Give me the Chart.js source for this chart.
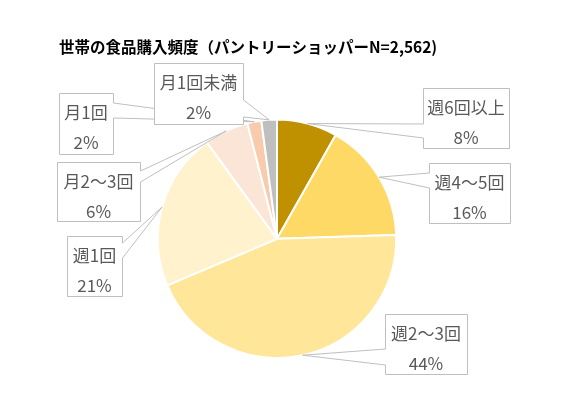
<!DOCTYPE html>
<html>
<head>
<meta charset="utf-8">
<script src="https://cdn.jsdelivr.net/npm/chart.js@4"></script>
<style>
html,body{margin:0;padding:0;background:#fff;}
#wrap{width:577px;height:402px;position:relative;}
</style>
</head>
<body>
<div id="wrap"><canvas id="c" width="577" height="402"></canvas></div>
<script>
// ---- data ----
const titleText = '世帯の食品購入頻度（パントリーショッパーN=2,562)';
const categories = ['週6回以上', '週4～5回', '週2～3回', '週1回', '月2～3回', '月1回', '月1回未満'];
const shares = [8.2, 16.3, 44.1, 21.4, 6.0, 1.9, 2.1];
const sliceColors = ['#BF9000', '#FFD966', '#FFE699', '#FFF2CC', '#FBE5D6', '#F8CBAD', '#BFBFBF'];

// ---- label callout layout (box rects; wedge side and opening on the box edge) ----
const calloutLayout = [
  {x: 423, y: 88,  w: 86, h: 60, side: 'left',  o1: 124, o2: 138},
  {x: 429, y: 163, w: 81, h: 60, side: 'left',  o1: 173, o2: 188},
  {x: 385, y: 314, w: 82, h: 60, side: 'left',  o1: 349, o2: 365},
  {x: 67,  y: 236, w: 55, h: 60, side: 'right', o1: 243, o2: 258},
  {x: 57,  y: 162, w: 83, h: 59, side: 'right', o1: 171, o2: 182},
  {x: 59,  y: 93,  w: 54, h: 61, side: 'right', o1: 103, o2: 118},
  {x: 154, y: 63,  w: 89, h: 61, side: 'right', o1: 100, o2: 117}
];

const calloutPlugin = {
  id: 'callouts',
  afterDatasetsDraw(chart) {
    const ctx = chart.ctx;
    const meta = chart.getDatasetMeta(0);
    const data = chart.data.datasets[0].data;
    const total = data.reduce((a, b) => a + b, 0);
    ctx.save();
    meta.data.forEach((arc, i) => {
      const p = arc.getProps(['x', 'y', 'startAngle', 'endAngle', 'outerRadius'], true);
      const mid = (p.startAngle + p.endAngle) / 2;
      const tx = p.x + Math.cos(mid) * p.outerRadius;
      const ty = p.y + Math.sin(mid) * p.outerRadius;
      const b = calloutLayout[i];
      const L = b.x + 0.5, T = b.y + 0.5, R = b.x + b.w + 0.5, B = b.y + b.h + 0.5;
      ctx.beginPath();
      if (b.side === 'left') {
        ctx.moveTo(L, T); ctx.lineTo(R, T); ctx.lineTo(R, B); ctx.lineTo(L, B);
        ctx.lineTo(L, b.o2); ctx.lineTo(tx, ty); ctx.lineTo(L, b.o1);
      } else {
        ctx.moveTo(L, T); ctx.lineTo(R, T); ctx.lineTo(R, b.o1); ctx.lineTo(tx, ty);
        ctx.lineTo(R, b.o2); ctx.lineTo(R, B); ctx.lineTo(L, B);
      }
      ctx.closePath();
      ctx.fillStyle = '#ffffff';
      ctx.fill();
      ctx.strokeStyle = '#BFBFBF';
      ctx.lineWidth = 1;
      ctx.stroke();
      ctx.fillStyle = '#595959';
      ctx.font = '17px "Noto Sans CJK JP", "Noto Sans", sans-serif';
      ctx.textAlign = 'center';
      ctx.textBaseline = 'middle';
      const cx = b.x + b.w / 2;
      ctx.fillText(chart.data.labels[i], cx, b.y + 19.5);
      ctx.fillText(Math.round(data[i] / total * 100) + '%', cx, b.y + 49.5);
    });
    ctx.restore();
  }
};

new Chart(document.getElementById('c'), {
  type: 'pie',
  data: {
    labels: categories,
    datasets: [{
      data: shares,
      backgroundColor: sliceColors,
      borderColor: '#ffffff',
      borderWidth: 2
    }]
  },
  options: {
    responsive: false,
    animation: false,
    layout: {padding: {left: 59, right: 82, top: 0, bottom: 43}},
    plugins: {
      legend: {display: false},
      tooltip: {enabled: false},
      title: {
        display: true,
        text: titleText,
        align: 'start',
        color: '#000000',
        font: {family: '"Noto Sans CJK JP", sans-serif', size: 15.5, weight: 'bold', lineHeight: 1.2},
        padding: {top: 38, bottom: 62}
      }
    }
  },
  plugins: [calloutPlugin]
});
</script>
</body>
</html>
